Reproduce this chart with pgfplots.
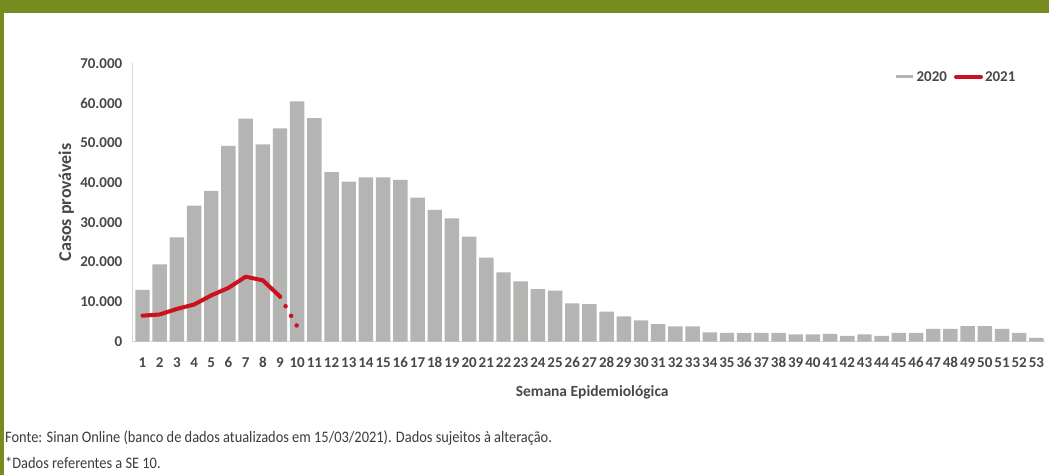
\documentclass[border=0pt]{standalone}
\usepackage{fontspec}
\setmainfont{Carlito}
\newfontfamily\condfont[FakeStretch=0.9]{Carlito}
\usepackage{pgfplots}
\usepackage{pgfplotstable}
\pgfplotsset{compat=1.18}
\definecolor{olivebar}{RGB}{118,140,30}
\definecolor{bargray}{RGB}{180,180,178}
\definecolor{redline}{RGB}{204,16,30}
\definecolor{ticktext}{RGB}{72,72,72}
\definecolor{notetext}{RGB}{60,60,60}
\definecolor{axisgray}{RGB}{217,217,217}
\pgfplotstableread{
week cases
1 13000
2 19400
3 26200
4 34200
5 37900
6 49200
7 56100
8 49600
9 53600
10 60400
11 56200
12 42600
13 40200
14 41300
15 41300
16 40700
17 36200
18 33100
19 31000
20 26400
21 21100
22 17400
23 15100
24 13200
25 12800
26 9600
27 9400
28 7500
29 6300
30 5300
31 4400
32 3800
33 3800
34 2300
35 2200
36 2200
37 2200
38 2200
39 1800
40 1800
41 1900
42 1400
43 1800
44 1400
45 2200
46 2200
47 3200
48 3200
49 3900
50 3900
51 3200
52 2200
53 900
}\dataA
\pgfplotstableread{
week cases
1 6500
2 6800
3 8200
4 9300
5 11600
6 13500
7 16300
8 15400
9 11300
}\dataB
\pgfplotstableread{
week cases
9 11300
10 3800
}\dataC
\begin{document}
\begin{tikzpicture}
\useasboundingbox (0pt,0pt) rectangle (1049pt,475pt);
\fill[white] (0pt,0pt) rectangle (1049pt,475pt);
\fill[olivebar] (0pt,462pt) rectangle (1049pt,475pt);
\fill[olivebar] (0pt,0pt) rectangle (4pt,475pt);
\begin{axis}[
  at={(132pt,133.5pt)}, anchor=south west,
  scale only axis, width=913pt, height=278.2pt,
  xmin=0.39, xmax=53.5, ymin=0, ymax=70000,
  axis x line*=bottom, axis y line*=left,
  axis line style={axisgray, line width=0.8pt, -},
  xtick={1,...,53}, ytick={0,10000,...,70000},
  major tick length=0pt,
  scaled y ticks=false,
  /pgf/number format/assume math mode=true,
  /pgf/number format/1000 sep={.},
  xticklabel style={font=\bfseries\fontsize{15}{17}\selectfont, text=ticktext, /pgf/number format/1000 sep={}, inner sep=0pt, anchor=base, yshift=-25.5pt},
  yticklabel style={font=\bfseries\fontsize{15}{17}\selectfont, text=ticktext, inner sep=0pt, xshift=-9.5pt},
  xlabel={Semana Epidemiológica},
  ylabel={Casos prováveis},
  every axis x label/.style={at={(axis description cs:0.504,-0.1815)}, anchor=center, font=\bfseries\fontsize{15.5}{17}\selectfont, text=ticktext},
  every axis y label/.style={at={(axis description cs:-0.072,0.5)}, rotate=90, anchor=center, font=\bfseries\fontsize{18}{20}\selectfont, text=ticktext},
  legend style={draw=none, fill=none, at={(0.97,0.951)}, anchor=east, font=\bfseries\fontsize{15}{17}\selectfont, text=ticktext, legend columns=-1, inner sep=0pt, /tikz/every even column/.append style={column sep=5pt}},
  legend cell align=left,
  clip=false,
]
\addplot[ybar, bar width=0.84, fill=bargray, draw=none,
  legend image code/.code={\draw[line width=3pt, bargray] (0pt,0pt) -- (17pt,0pt);}]
  table[x=week, y=cases] {\dataA};
\addlegendentry{2020}
\addplot[redline, line width=4pt, line join=round, line cap=round,
  legend image code/.code={\draw[line width=4pt, redline] (0pt,0pt) -- (25pt,0pt);}]
  table[x=week, y=cases] {\dataB};
\addlegendentry{2021}
\addplot[redline, line width=4.5pt, line cap=round, dash pattern=on 0pt off 11.1pt, forget plot]
  table[x=week, y=cases] {\dataC};
\end{axis}
\node[anchor=west, inner sep=0pt, text=notetext, font=\condfont\fontsize{16}{18}\selectfont] at (5pt,37pt) {Fonte: Sinan Online (banco de dados atualizados em 15/03/2021). Dados sujeitos à alteração.};
\node[anchor=west, inner sep=0pt, text=notetext, font=\condfont\fontsize{16}{18}\selectfont] at (5pt,12pt) {*Dados referentes a SE 10.};
\end{tikzpicture}
\end{document}
